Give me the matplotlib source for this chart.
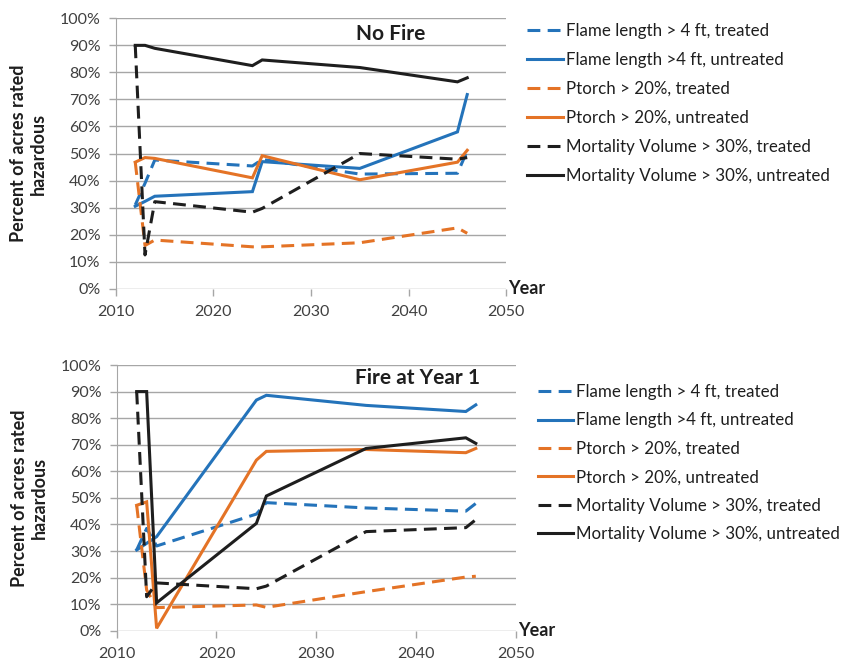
import matplotlib
matplotlib.use("Agg")
import matplotlib.pyplot as plt
from matplotlib.ticker import FuncFormatter

plt.rcParams['font.family'] = ['Lato', 'DejaVu Sans']

years = [2012, 2013, 2014, 2024, 2025, 2035, 2045, 2046]

labels = ["Flame length > 4 ft, treated",
          "Flame length >4 ft, untreated",
          "Ptorch > 20%, treated",
          "Ptorch > 20%, untreated",
          "Mortality Volume > 30%, treated",
          "Mortality Volume > 30%, untreated"]

# no fire scenario (percent of acres)
nofire_flame_tr = [31.0, 39.0, 47.6, 45.4, 47.8, 42.4, 42.7, 51.0]
nofire_flame_un = [30.5, 32.3, 34.2, 35.9, 47.0, 44.5, 58.0, 71.8]
nofire_ptorch_tr = [46.8, 16.0, 18.0, 15.5, 15.5, 17.0, 22.5, 20.5]
nofire_ptorch_un = [46.8, 48.5, 48.2, 41.0, 49.2, 40.3, 46.8, 51.2]
nofire_mort_tr = [90.0, 12.5, 32.2, 28.3, 29.7, 50.0, 47.9, 48.5]
nofire_mort_un = [90.0, 90.0, 88.9, 82.5, 84.6, 81.8, 76.5, 78.0]

# fire at year 1 scenario
fire_flame_tr = [30.4, 38.5, 31.9, 43.9, 48.2, 46.2, 45.0, 47.9]
fire_flame_un = [30.4, 32.9, 35.4, 86.8, 88.6, 84.8, 82.5, 85.0]
fire_ptorch_tr = [47.2, 15.3, 8.7, 9.7, 8.8, 14.7, 20.2, 20.5]
fire_ptorch_un = [47.2, 48.5, 0.9, 64.2, 67.5, 68.2, 67.0, 68.6]
fire_mort_tr = [90.0, 12.8, 18.0, 15.8, 16.8, 37.3, 38.8, 41.8]
fire_mort_un = [90.0, 90.0, 10.5, 40.4, 50.7, 68.6, 72.6, 70.5]

BLUE = "#2473BA"
ORANGE = "#E47326"
BLACK = "#1E1E1E"
GRID = "#A6A6A6"
TXT = "#404040"

DASH = (0, (4.2, 2.4))
styles = [(BLUE, DASH), (BLUE, '-'),
          (ORANGE, DASH), (ORANGE, '-'),
          (BLACK, DASH), (BLACK, '-')]

fig = plt.figure(figsize=(8.41, 6.61), dpi=100)
ax1 = fig.add_axes([0.1376, 0.5632, 0.4644, 0.4091])
ax2 = fig.add_axes([0.1388, 0.0458, 0.4744, 0.4020])


def draw(ax, series, title, title_x, title_y, leg_anchor, leg_space):
    for s, (c, ls), lab in zip(series, styles, labels):
        ax.plot(years, s, color=c, linestyle=ls, linewidth=2.2, label=lab,
                solid_joinstyle='miter')
    ax.set_xlim(2010, 2050)
    ax.set_ylim(0, 100)
    ax.set_xticks(range(2010, 2051, 10))
    ax.set_yticks(range(0, 101, 10))
    ax.yaxis.set_major_formatter(FuncFormatter(lambda v, p: f"{int(v)}%"))
    ax.grid(axis='y', color=GRID, linewidth=1.0)
    ax.set_axisbelow(True)
    for sp in ['top', 'right', 'bottom']:
        ax.spines[sp].set_visible(False)
    ax.spines['left'].set_color(GRID)
    ax.tick_params(axis='both', colors=GRID, labelcolor=TXT, labelsize=11.5,
                   length=5, width=1.0)
    ax.tick_params(axis='y', pad=6)
    ax.tick_params(axis='x', pad=7)
    ax.set_ylabel("Percent of acres rated\nhazardous", fontsize=13,
                  fontweight='bold', color=BLACK, labelpad=9)
    ax.text(1.005, 0.0, "Year", transform=ax.transAxes, fontsize=13,
            fontweight='bold', color=BLACK, ha='left', va='center')
    ax.text(title_x, title_y, title, transform=ax.transAxes, fontsize=15,
            fontweight='bold', color=BLACK, ha='right', va='top')
    ax.legend(loc='upper left', bbox_to_anchor=leg_anchor,
              bbox_transform=fig.transFigure, frameon=False, fontsize=12.2,
              handlelength=2.1, handletextpad=0.2, labelspacing=leg_space,
              labelcolor=BLACK)


draw(ax1, [nofire_flame_tr, nofire_flame_un, nofire_ptorch_tr,
           nofire_ptorch_un, nofire_mort_tr, nofire_mort_un],
     "No Fire", 0.792, 0.978, (0.6085, 0.988), 0.76)
draw(ax2, [fire_flame_tr, fire_flame_un, fire_ptorch_tr,
           fire_ptorch_un, fire_mort_tr, fire_mort_un],
     "Fire at Year 1", 0.91, 0.99, (0.621, 0.442), 0.73)

fig.savefig("out.png", dpi=100)
